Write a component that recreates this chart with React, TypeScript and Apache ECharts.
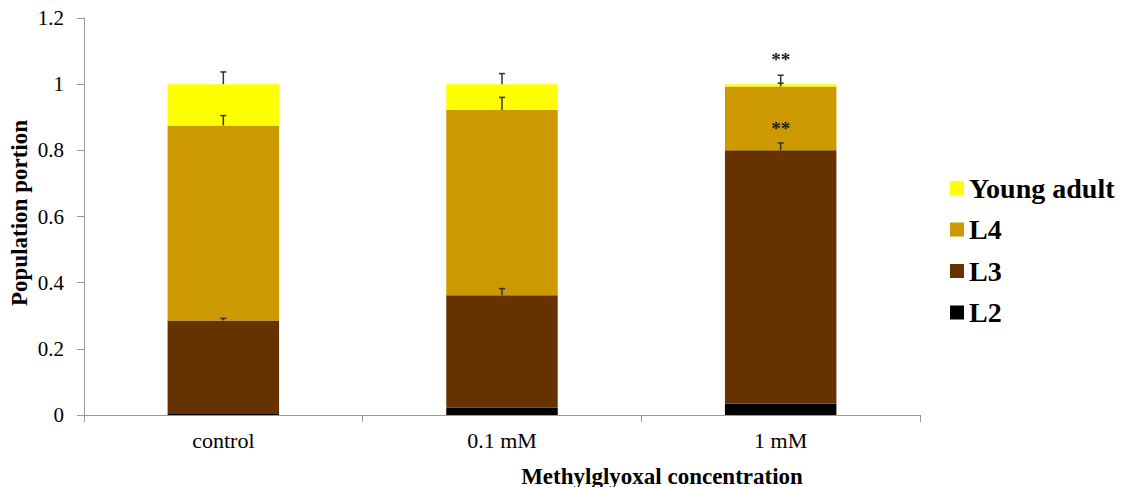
import React, { useEffect, useRef } from "react";
import * as echarts from "echarts";

const categories = ["control", "0.1 mM", "1 mM"];
const L2 = [0.003, 0.022, 0.035];
const L3 = [0.283, 0.34, 0.765];
const L4 = [0.589, 0.56, 0.193];
const YoungAdult = [0.125, 0.078, 0.007];
// error bars: [category index, stack top, upper, lower]
const errorBars = [
  [0, 0.286, 0.292, 0.286],
  [0, 0.875, 0.905, 0.875],
  [0, 1.0, 1.037, 1.0],
  [1, 0.362, 0.382, 0.362],
  [1, 0.922, 0.96, 0.922],
  [1, 1.0, 1.032, 1.0],
  [2, 0.8, 0.822, 0.8],
  [2, 0.993, 1.027, 1.003],
];
const annotations = [
  [2, 1.075, "**"],
  [2, 0.865, "**"],
];
const yTicks = { min: 0, max: 1.2, interval: 0.2 };

const FONT = "serif";

export default function App() {
  const ref = useRef<HTMLDivElement>(null);
  useEffect(() => {
    const chart = echarts.init(ref.current!, undefined, { renderer: "svg" });
    const barBase = { type: "bar", stack: "total", barWidth: "40%" };
    chart.setOption({
      animation: false,
      textStyle: { fontFamily: FONT },
      grid: { left: 84, right: 220, top: 18, bottom: 72 },
      legend: {
        data: ["Young adult", "L4", "L3", "L2"],
        orient: "vertical",
        left: 945,
        top: 169,
        itemWidth: 14,
        itemHeight: 14,
        itemGap: 13.5,
        icon: "rect",
        textStyle: {
          fontFamily: FONT,
          fontWeight: "bold",
          fontSize: 28,
          color: "#000",
        },
      },
      xAxis: {
        type: "category",
        data: categories,
        axisLine: { lineStyle: { color: "#999", width: 1 } },
        axisTick: { show: true, length: 7, lineStyle: { color: "#999" } },
        axisLabel: { fontFamily: FONT, fontSize: 22, color: "#000", margin: 14 },
      },
      yAxis: {
        type: "value",
        min: yTicks.min,
        max: yTicks.max,
        interval: yTicks.interval,
        splitLine: { show: false },
        axisLine: { show: true, lineStyle: { color: "#999", width: 1 } },
        axisTick: { show: true, length: 7, lineStyle: { color: "#999" } },
        axisLabel: {
          fontFamily: FONT,
          fontSize: 21,
          color: "#000",
          margin: 20,
          formatter: (v: number) => String(Math.round(v * 10) / 10),
        },
      },
      graphic: [
        {
          type: "text",
          x: 662,
          y: 476,
          style: {
            text: "Methylglyoxal concentration",
            fontFamily: FONT,
            fontWeight: "bold",
            fontSize: 23,
            fill: "#000",
            align: "center",
            verticalAlign: "middle",
          },
        },
        {
          type: "text",
          x: 19,
          y: 213,
          rotation: Math.PI / 2,
          style: {
            text: "Population portion",
            fontFamily: FONT,
            fontWeight: "bold",
            fontSize: 23,
            fill: "#000",
            align: "center",
            verticalAlign: "middle",
          },
        },
      ],
      series: [
        { ...barBase, name: "L2", data: L2, itemStyle: { color: "#000000" } },
        { ...barBase, name: "L3", data: L3, itemStyle: { color: "#663300" } },
        { ...barBase, name: "L4", data: L4, itemStyle: { color: "#CC9900" } },
        { ...barBase, name: "Young adult", data: YoungAdult, itemStyle: { color: "#FFFF00" } },
        {
          type: "custom",
          name: "err",
          data: errorBars,
          z: 10,
          renderItem: (params: any, api: any) => {
            const x = api.value(0);
            const hi = api.coord([x, api.value(2)]);
            const lo = api.coord([x, api.value(3)]);
            const base = api.coord([x, api.value(1)]);
            const cw = 3;
            const style = { stroke: "#333", lineWidth: 1.5 };
            const children: any[] = [
              { type: "line", shape: { x1: hi[0], y1: hi[1], x2: base[0], y2: base[1] }, style },
              { type: "line", shape: { x1: hi[0] - cw, y1: hi[1], x2: hi[0] + cw, y2: hi[1] }, style },
            ];
            if (Math.abs(lo[1] - base[1]) > 0.5) {
              children.push({ type: "line", shape: { x1: lo[0] - cw, y1: lo[1], x2: lo[0] + cw, y2: lo[1] }, style });
            }
            return { type: "group", children };
          },
        },
        {
          type: "custom",
          name: "ann",
          data: annotations,
          z: 11,
          renderItem: (params: any, api: any) => {
            const p = api.coord([api.value(0), api.value(1)]);
            return {
              type: "text",
              x: p[0],
              y: p[1],
              style: {
                text: annotations[params.dataIndex][2] as string,
                fontFamily: FONT,
                fontWeight: "bold",
                fontSize: 19,
                fill: "#222",
                align: "center",
                verticalAlign: "middle",
              },
            };
          },
        },
      ],
    });
    return () => chart.dispose();
  }, []);
  return <div ref={ref} style={{ width: 1140, height: 487, position: "absolute", left: 0, top: 0 }} />;
}
